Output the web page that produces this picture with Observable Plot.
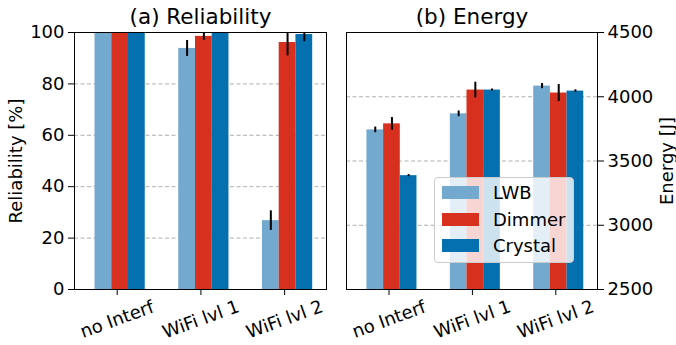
<!DOCTYPE html>
<html>
<head>
<meta charset="utf-8">
<script src="https://cdn.jsdelivr.net/npm/d3@7"></script>
<script src="https://cdn.jsdelivr.net/npm/@observablehq/plot@0.6"></script>
<style>
  body { margin: 0; background: #fff; font-family: "DejaVu Sans", sans-serif; }
  #wrap { position: relative; width: 676px; height: 345px; overflow: hidden; }
  #left, #right { position: absolute; top: 0; }
  #left { left: 0; }
  #right { left: 338px; }
  #legend {
    position: absolute; left: 434px; top: 177px; width: 140px; height: 86px;
    box-sizing: border-box; border: 1px solid #cccccc; border-radius: 4px;
    background: rgba(255,255,255,0.8); font-size: 18px; color: #000;
  }
  .item { position: absolute; left: 7px; height: 13px; display: flex; align-items: center; }
  .patch { width: 37px; height: 13px; }
  .label { margin-left: 14px; line-height: 13px; white-space: nowrap; }
</style>
</head>
<body>
<div id="wrap">
  <div id="left"></div>
  <div id="right"></div>
  <div id="legend"></div>
</div>
<script>
// ---- data ----
const categories = ["no Interf", "WiFi lvl 1", "WiFi lvl 2"];
const series = ["LWB", "Dimmer", "Crystal"];
const seriesColors = ["#74a9cf", "#d7301f", "#0570b0"];

const relLWB     = [100, 93.8, 26.8];
const relDimmer  = [100, 98.5, 96.1];
const relCrystal = [100, 100, 99.2];
const relErrLWB     = [0.3, 3.1, 3.8];
const relErrDimmer  = [0.3, 1.5, 5.2];
const relErrCrystal = [0.3, 0.3, 2.8];

const energyLWB     = [3742, 3867, 4083];
const energyDimmer  = [3789, 4052, 4029];
const energyCrystal = [3386, 4052, 4044];
const energyErrLWB     = [22, 22, 20];
const energyErrDimmer  = [49, 61, 66];
const energyErrCrystal = [8, 8, 10];

const relTicks = [0, 20, 40, 60, 80, 100];
const relGrid = [20, 40, 60, 80];
const energyTicks = [2500, 3000, 3500, 4000, 4500];
const energyGrid = [3000, 3500, 4000];

// ---- layout constants ----
const barW = 0.2, groupShift = 0.035;
const xDomain = [-0.51, 2.5];

function rows(valueArrays, errArrays) {
  const out = [];
  series.forEach((s, k) => {
    categories.forEach((c, i) => {
      out.push({series: s, cat: c, x: i + groupShift + (k - 1) * barW,
                value: valueArrays[k][i], err: errArrays[k][i]});
    });
  });
  return out;
}

function panel({data, yDomain, yTicks, grid, title, ylabel, right}) {
  return Plot.plot({
    width: 338, height: 345,
    marginTop: 32, marginBottom: 56,
    marginLeft: right ? 8 : 74, marginRight: right ? 79 : 12,
    style: {fontFamily: "DejaVu Sans", fontSize: "18px", color: "black", background: "white", overflow: "visible"},
    x: {domain: xDomain},
    y: {domain: yDomain},
    color: {domain: series, range: seriesColors},
    marks: [
      Plot.gridY(grid, {stroke: "#b0b0b0", strokeOpacity: 1, strokeWidth: 1, strokeDasharray: "4,2.5"}),
      Plot.rect(data, {x1: d => d.x - barW / 2, x2: d => d.x + barW / 2, y1: 0, y2: "value", fill: "series", clip: true}),
      Plot.ruleX(data, {x: "x", y1: d => d.value - d.err, y2: d => d.value + d.err, stroke: "black", strokeWidth: 2, clip: true}),
      Plot.frame({stroke: "black", strokeWidth: 1}),
      Plot.axisY({anchor: right ? "right" : "left", ticks: yTicks, tickFormat: d => String(d), tickSize: 6, tickPadding: 4, label: null, fontSize: 18}),
      Plot.axisX({ticks: [0, 1, 2], tickSize: 6, tickFormat: () => "", label: null}),
      Plot.text(categories, {x: (d, i) => i, frameAnchor: "bottom", dy: 30, rotate: -20, textAnchor: "middle", lineAnchor: "middle", fontSize: 18, fill: "black"}),
      Plot.text([title], {frameAnchor: "top", dy: -15, textAnchor: "middle", lineAnchor: "middle", fontSize: 21.5, fill: "black"}),
      Plot.text([ylabel], {frameAnchor: right ? "right" : "left", dx: right ? 70 : -58.5, rotate: -90, textAnchor: "middle", lineAnchor: "middle", fontSize: 18, fill: "black"})
    ]
  });
}

document.getElementById("left").append(panel({
  data: rows([relLWB, relDimmer, relCrystal], [relErrLWB, relErrDimmer, relErrCrystal]),
  yDomain: [0, 100], yTicks: relTicks, grid: relGrid,
  title: "(a) Reliability", ylabel: "Reliability [%]", right: false
}));

document.getElementById("right").append(panel({
  data: rows([energyLWB, energyDimmer, energyCrystal], [energyErrLWB, energyErrDimmer, energyErrCrystal]),
  yDomain: [2500, 4500], yTicks: energyTicks, grid: energyGrid,
  title: "(b) Energy", ylabel: "Energy [J]", right: true
}));

// legend
const legend = document.getElementById("legend");
series.forEach((s, k) => {
  const item = document.createElement("div");
  item.className = "item";
  item.style.top = (8 + k * 26.5) + "px";
  const patch = document.createElement("div");
  patch.className = "patch";
  patch.style.background = seriesColors[k];
  const label = document.createElement("span");
  label.className = "label";
  label.textContent = s;
  item.append(patch, label);
  legend.append(item);
});
</script>
</body>
</html>
